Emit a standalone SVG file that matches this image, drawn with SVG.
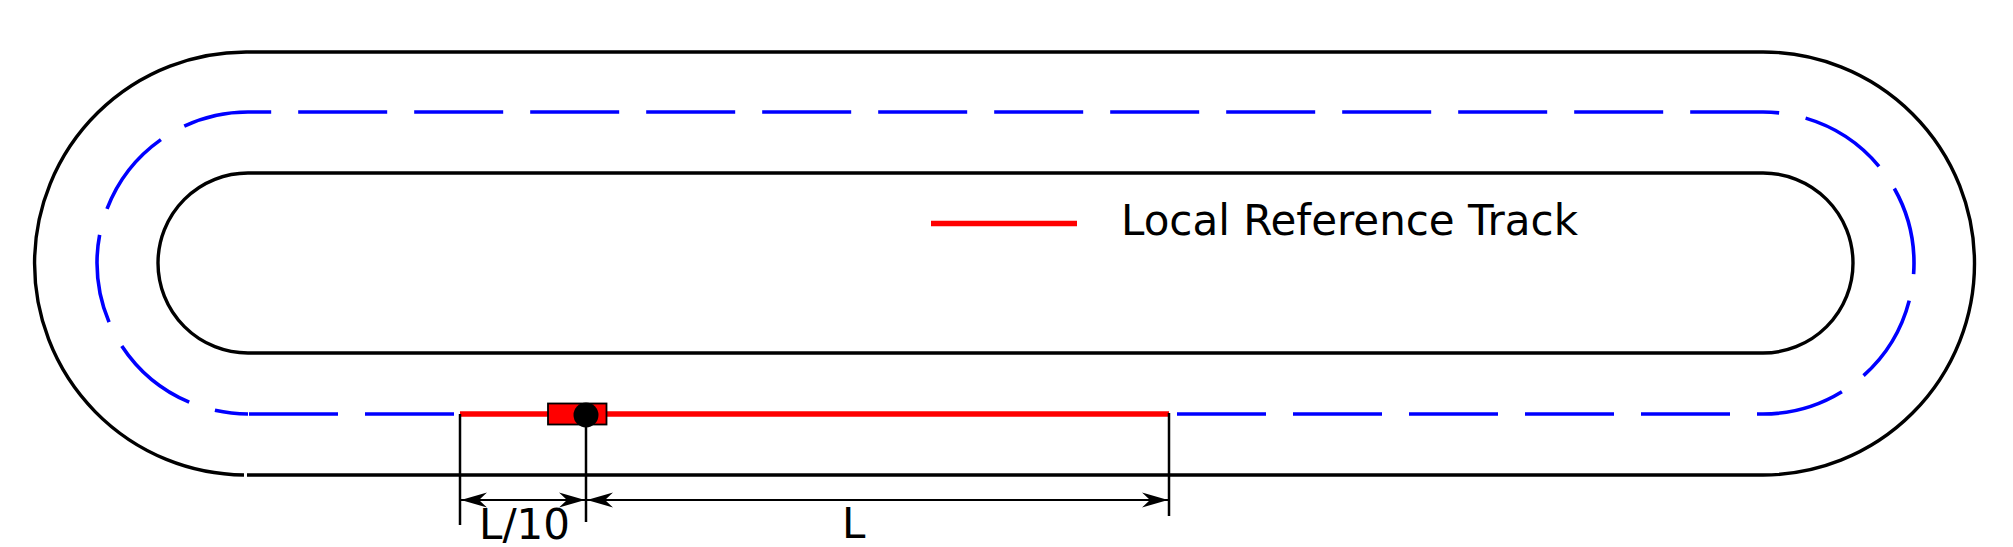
<svg xmlns="http://www.w3.org/2000/svg" width="2013" height="547" viewBox="0 0 2013 547">
<style>
.blk{fill:none;stroke:#000;stroke-width:3.4}
.blue{fill:none;stroke:#0000ff;stroke-width:3.6;stroke-dasharray:89 27}
.red{fill:none;stroke:#ff0000;stroke-width:5.5}
.tick{fill:none;stroke:#000;stroke-width:2.5}
.dim{fill:none;stroke:#000;stroke-width:2.2;marker-start:url(#arr);marker-end:url(#arr)}
.lbl{font-family:"DejaVu Sans","Liberation Sans",sans-serif;font-size:42px;fill:#000}
</style>
<defs>
<marker id="arr" markerUnits="userSpaceOnUse" markerWidth="30" markerHeight="18" viewBox="0 0 30 18" refX="28" refY="9" orient="auto-start-reverse">
<path d="M28,9 L2,1.5 L10,9 L2,16.5 Z" fill="#000"/>
</marker>
</defs>
<rect width="2013" height="547" fill="#fff"/>
<g id="track">
<path class="blk" d="M248,52 H1763 A211.5,211.5 0 0 1 1763,475 H247"/>
<path class="blk" d="M244,475 A211.5,211.5 0 0 1 248,52"/>
<path class="blk" d="M248,173 H1763 A90,90 0 0 1 1763,353 H248 A90,90 0 0 1 248,173 Z"/>
</g>
<g id="centerline">
<path class="blue" d="M249,414 H1763 A151,151 0 0 0 1763,112 H248 A151,151 0 0 0 248,414"/>
</g>
<g id="local-reference-track">
<line class="red" x1="460" y1="414" x2="1169" y2="414"/>
</g>
<g id="vehicle">
<rect x="548" y="403.5" width="58.5" height="21" fill="#ff0000" stroke="#000" stroke-width="1.8"/>
<circle cx="586" cy="415" r="12.5" fill="#000"/>
</g>
<g id="dimensions">
<line class="tick" x1="460" y1="414" x2="460" y2="525"/>
<line class="tick" x1="586" y1="415" x2="586" y2="522"/>
<line class="tick" x1="1169" y1="413" x2="1169" y2="516"/>
<line class="dim" x1="461" y1="500" x2="585" y2="500"/>
<line class="dim" x1="587" y1="500" x2="1168" y2="500"/>
<text class="lbl" x="479" y="539">L/10</text>
<text class="lbl" x="842" y="538">L</text>
</g>
<g id="legend">
<line class="red" x1="931" y1="223.5" x2="1077" y2="223.5"/>
<text class="lbl" x="1121" y="235">Local Reference Track</text>
</g>
</svg>
